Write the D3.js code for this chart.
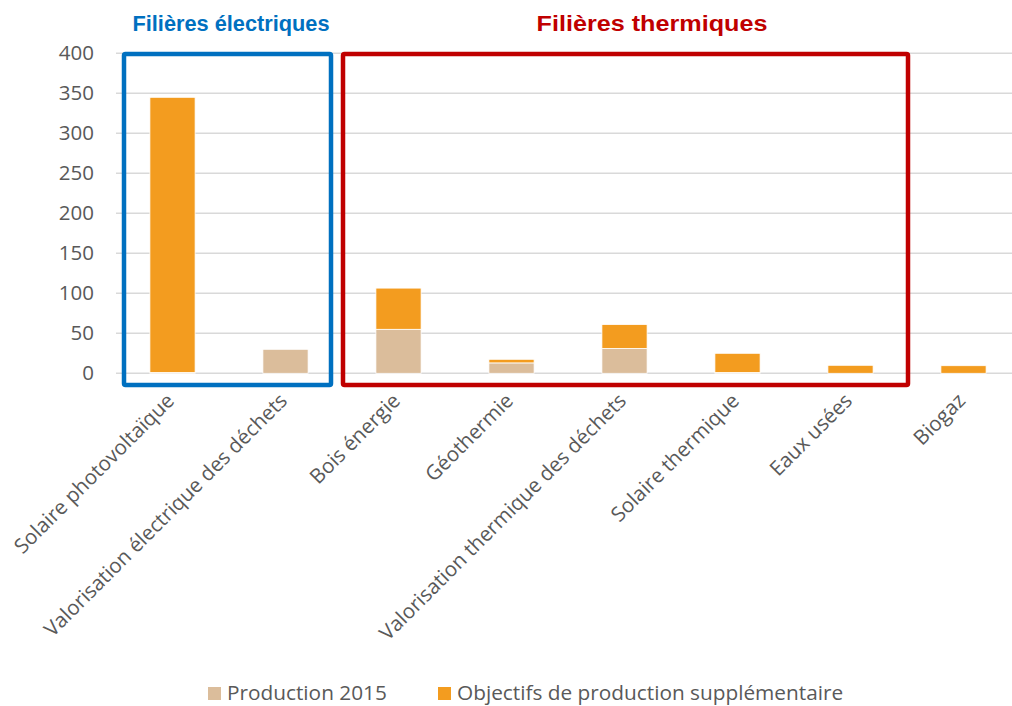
<!DOCTYPE html>
<html>
<head>
<meta charset="utf-8">
<script src="https://cdn.jsdelivr.net/npm/d3@7"></script>
<style>
    body { margin: 0; background: #fff; font-family: "Open Sans", sans-serif; }
    .grid line { stroke: #d9d9d9; stroke-width: 1.5px; }
    .tick-lab { fill: #595959; font-size: 20.5px; }
    .legend-lab { fill: #595959; font-size: 20.8px; }
    .title { font-family: "Liberation Sans", Arial, sans-serif; font-weight: bold; font-size: 22px; }
</style>
</head>
<body>
<script>
// data
const categories = ["Solaire photovoltaïque", "Valorisation électrique des déchets", "Bois énergie",
    "Géothermie", "Valorisation thermique des déchets", "Solaire thermique", "Eaux usées", "Biogaz"];
const production2015 = [1, 30, 55, 13, 31, 1, 0, 0];
const objectifs = [344, 0, 51.5, 4.5, 30, 24, 10, 9.5];
const seriesNames = ["Production 2015", "Objectifs de production supplémentaire"];
const yTicks = [0, 50, 100, 150, 200, 250, 300, 350, 400];
const groupLabels = ["Filières électriques", "Filières thermiques"];
const groupFirst = [0, 2];
const groupLast = [1, 6];

const width = 1012, height = 706;
const colors = ["#dbbd9b", "#f39c1f"];
const groupColors = ["#0070c0", "#c00000"];

const svg = d3.select("body").append("svg")
    .attr("width", width).attr("height", height);

const x = d3.scaleBand().domain(categories).range([116, 1020]).paddingInner(0.6).paddingOuter(0.3);
const y = d3.scaleLinear().domain([0, 400]).range([373.3, 53.3]);
const step = x.step();
const mid = d => x(d) + x.bandwidth() / 2;

// gridlines
svg.append("g").attr("class", "grid")
    .selectAll("line").data(yTicks).join("line")
    .attr("x1", 116).attr("x2", 1020)
    .attr("y1", d => y(d)).attr("y2", d => y(d));

// y labels
svg.append("g").selectAll("text").data(yTicks).join("text")
    .attr("class", "tick-lab")
    .attr("x", 94).attr("y", d => y(d) + 1)
    .attr("text-anchor", "end").attr("dominant-baseline", "middle")
    .text(d => d);

// stacked bars
const rows = categories.map((c, i) => ({cat: c, p: production2015[i], o: objectifs[i]}));
const stack = d3.stack().keys(["p", "o"])(rows);

svg.append("g").selectAll("g").data(stack).join("g")
    .attr("fill", (d, i) => colors[i])
    .selectAll("rect").data(d => d.filter(s => s[1] - s[0] > 0)).join("rect")
    .attr("x", d => x(d.data.cat))
    .attr("width", x.bandwidth())
    .attr("y", d => y(d[1]))
    .attr("height", d => y(d[0]) - y(d[1]))
    .attr("stroke", "#fff").attr("stroke-width", 0.8);

// x labels
svg.append("g").selectAll("text").data(categories).join("text")
    .attr("class", "tick-lab")
    .attr("text-anchor", "end")
    .attr("transform", d => `translate(${mid(d) + 3},${402}) rotate(-45)`)
    .text(d => d);

// group frames
const padL = [8, 1], padR = [-11, 1];
const titleX = [231, 652], titleW = [197, 231];
groupLabels.forEach((lab, i) => {
    const x0 = mid(categories[groupFirst[i]]) - step / 2 + padL[i];
    const x1 = mid(categories[groupLast[i]]) + step / 2 + padR[i];
    svg.append("rect")
        .attr("x", x0).attr("y", 54)
        .attr("width", x1 - x0).attr("height", 331)
        .attr("fill", "none").attr("stroke", groupColors[i]).attr("stroke-width", 4.5)
        .attr("rx", 1.5);
    svg.append("text").attr("class", "title")
        .attr("x", titleX[i] - titleW[i] / 2).attr("y", 31)
        .attr("textLength", titleW[i]).attr("lengthAdjust", "spacingAndGlyphs")
        .attr("fill", groupColors[i])
        .text(lab);
});

// legend
const legendX = [208, 438];
const leg = svg.append("g").selectAll("g").data(seriesNames).join("g")
    .attr("transform", (d, i) => `translate(${legendX[i]},687)`);
leg.append("rect").attr("width", 13).attr("height", 13).attr("fill", (d, i) => colors[i]);
leg.append("text").attr("class", "legend-lab")
    .attr("x", 19).attr("y", 7).attr("dominant-baseline", "middle")
    .text(d => d);
</script>
</body>
</html>
